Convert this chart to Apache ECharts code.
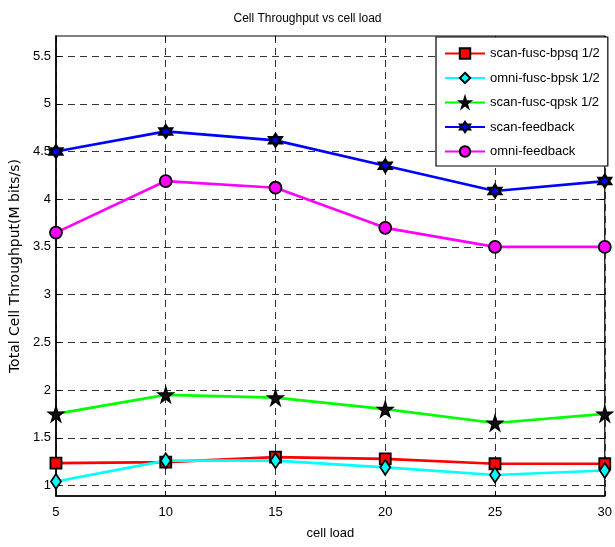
<!DOCTYPE html>
<html>
<head>
<meta charset="utf-8">
<script src="https://cdn.jsdelivr.net/npm/echarts@6/dist/echarts.min.js"></script>
<style>html,body{margin:0;padding:0;background:#fff;}#c{width:615px;height:547px;}</style>
</head>
<body>
<div id="c"></div>
<script>
var cellLoad = [5, 10, 15, 20, 25, 30];
var scanFuscBpsq = [1.235, 1.245, 1.298, 1.28, 1.228, 1.228];
var omniFuscBpsk = [1.042, 1.26, 1.26, 1.19, 1.11, 1.157];
var scanFuscQpsk = [1.75, 1.95, 1.92, 1.80, 1.655, 1.75];
var scanFeedback = [4.50, 4.71, 4.617, 4.35, 4.086, 4.19];
var omniFeedback = [3.65, 4.19, 4.12, 3.70, 3.50, 3.50];
var yTicks = [1, 1.5, 2, 2.5, 3, 3.5, 4, 4.5, 5, 5.5];
var xTicks = [5, 10, 15, 20, 25, 30];

function pairs(vals) { return cellLoad.map(function (x, i) { return [x, vals[i]]; }); }

var FONT = 'Liberation Sans';
var star5 = 'path://M50,0 L61,35 L98,35 L68,57 L79,91 L50,70 L21,91 L32,57 L2,35 L39,35 Z';
var star6 = 'path://M50,0 L64,25 L93,25 L79,50 L93,75 L64,75 L50,100 L36,75 L7,75 L21,50 L7,25 L36,25 Z';

function mk(name, data, color, symbol, size, fill, bw) {
  return {
    name: name, type: 'line', data: pairs(data),
    symbol: symbol, symbolSize: size,
    lineStyle: { color: color, width: 2.7 },
    itemStyle: { color: fill || color, borderColor: '#000', borderWidth: bw || 1.8 },
    emphasis: { disabled: true },
    animation: false
  };
}

var chart = echarts.init(document.getElementById('c'), null, { renderer: 'canvas' });
var yMin = 0.89, yMax = 5.71;
chart.setOption({
  backgroundColor: '#fff',
  animation: false,
  title: {
    text: 'Cell Throughput vs cell load', left: 'center', top: 8,
    textStyle: { fontFamily: FONT, fontSize: 12, fontWeight: 'normal', color: '#000' }
  },
  grid: { left: 52, right: 8, top: 36, bottom: 51, show: true, borderColor: '#000', borderWidth: 1.2, backgroundColor: '#fff' },
  legend: {
    orient: 'vertical', left: 436, top: 37,
    padding: [10, 8, 8, 8], itemGap: 11.5, itemWidth: 40, itemHeight: 13,
    backgroundColor: '#fff', borderColor: '#000', borderWidth: 1.2, borderRadius: 0,
    textStyle: { fontFamily: FONT, fontSize: 13, color: '#000' },
    data: ['scan-fusc-bpsq 1/2', 'omni-fusc-bpsk 1/2', 'scan-fusc-qpsk 1/2', 'scan-feedback', 'omni-feedback']
  },
  xAxis: [{
    type: 'value', min: 5, max: 30, interval: 5,
    name: 'cell load', nameLocation: 'middle', nameGap: 31,
    nameTextStyle: { fontFamily: FONT, fontSize: 13, color: '#000' },
    axisLine: { show: true, lineStyle: { color: '#000', width: 1.5 } },
    axisTick: { show: true, inside: true, length: 5, lineStyle: { color: '#000' } },
    axisLabel: { fontFamily: FONT, fontSize: 13, color: '#000', margin: 10 },
    splitLine: { show: true, lineStyle: { color: '#333', width: 1, type: [7, 5] } }
  }, {
    type: 'value', min: 5, max: 30, interval: 5, position: 'top',
    axisLine: { show: false },
    axisTick: { show: true, inside: true, length: 5, lineStyle: { color: '#000' } },
    axisLabel: { show: false }, splitLine: { show: false }
  }],
  yAxis: [{
    type: 'value', min: yMin, max: yMax,
    name: 'Total Cell Throughput(M bits/s)', nameLocation: 'middle', nameGap: 32,
    nameTextStyle: { fontFamily: 'DejaVu Sans', fontSize: 14, color: '#000' },
    axisLine: { show: true, lineStyle: { color: '#000', width: 1.5 } },
    axisTick: { show: true, inside: true, length: 5, customValues: yTicks, lineStyle: { color: '#000' } },
    axisLabel: { fontFamily: FONT, fontSize: 13, color: '#000', margin: 5, customValues: yTicks,
      formatter: function (v) { return String(v); } },
    splitLine: { show: true, lineStyle: { color: '#333', width: 1, type: [7, 5] } }
  }, {
    type: 'value', min: yMin, max: yMax, position: 'right',
    axisLine: { show: false },
    axisTick: { show: true, inside: true, length: 5, customValues: yTicks, lineStyle: { color: '#000' } },
    axisLabel: { show: false }, splitLine: { show: false }
  }],
  series: [
    mk('scan-fusc-bpsq 1/2', scanFuscBpsq, '#ff0000', 'rect', 11),
    mk('omni-fusc-bpsk 1/2', omniFuscBpsk, '#00ffff', 'diamond', [10, 15]),
    mk('scan-fusc-qpsk 1/2', scanFuscQpsk, '#00ff00', star5, 15, '#111', 1.5),
    mk('scan-feedback', scanFeedback, '#0000ff', star6, 12, '#0000ff', 2.6),
    mk('omni-feedback', omniFeedback, '#ff00ff', 'circle', 12)
  ]
});
</script>
</body>
</html>
